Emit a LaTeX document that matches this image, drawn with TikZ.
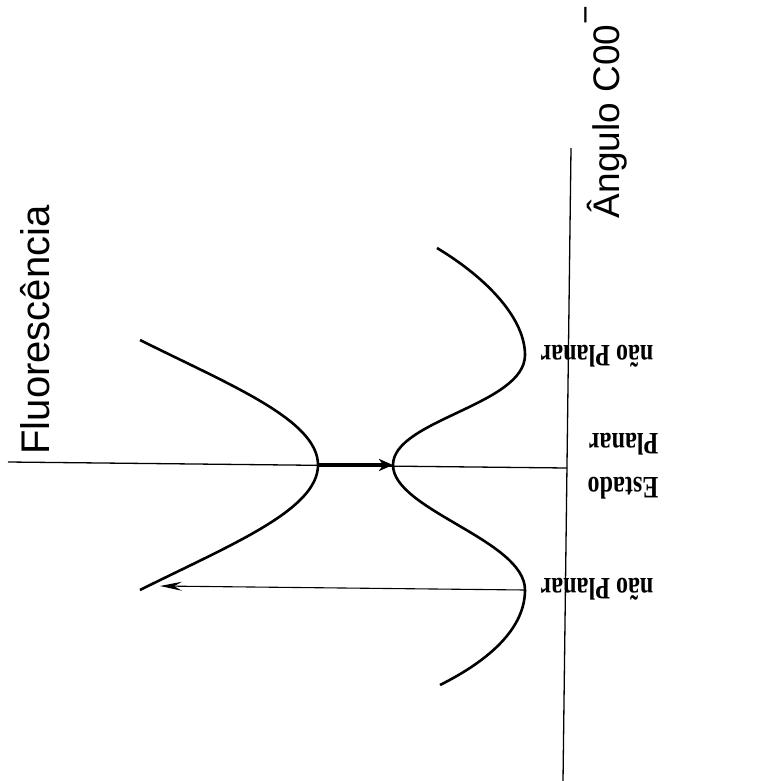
\documentclass[tikz,border=0pt]{standalone}
\usepackage{fontspec}
\setmainfont{Liberation Serif}
\newfontfamily\arialf{Liberation Sans}
\usetikzlibrary{arrows.meta}
\begin{document}
\begin{tikzpicture}[x=1pt,y=1pt,
  axis/.style={line width=1.3pt},
  curve/.style={line width=2.6pt},
  sanslabel/.style={font=\arialf\fontsize{#1}{#1}\selectfont, inner sep=0pt, rotate=90},
  seriflabel/.style={font=\bfseries\fontsize{24}{34}\selectfont, inner sep=0pt, rotate=180, yscale=1.3, align=left},
  thinarrow/.style={line width=1.1pt, -{Stealth[length=22pt,width=9pt,inset=8pt]}},
  thickarrow/.style={line width=3.2pt, -{Stealth[length=14pt,width=12pt,inset=4pt]}}]
\useasboundingbox (0,0) rectangle (761,-781);
% axes
\coordinate (hl) at (8,-462);
\coordinate (hr) at (567,-468);
\coordinate (vt) at (571,-148);
\coordinate (vb) at (563,-781);
\draw[axis] (hl) -- (hr);
\draw[axis] (vt) -- (vb);
% upper (excited) curve
\coordinate (v1) at (318,-465);
\draw[curve] (140,-340) .. controls (230,-385) and (318,-420) .. (v1)
  .. controls (318,-510) and (230,-545) .. (140,-590);
% lower (ground) double-well curve
\coordinate (v2) at (393,-465);
\coordinate (w2) at (525,-590);
\draw[curve] (437,-248) .. controls (490,-280) and (525,-320) .. (525,-355)
  .. controls (525,-405) and (393,-420) .. (v2)
  .. controls (393,-510) and (525,-540) .. (w2)
  .. controls (525,-628) and (490,-660) .. (440,-685);
% arrows
\coordinate (e2) at (160,-586);
\draw[thickarrow] (v1) -- (v2);
\draw[thinarrow] (w2) -- (e2);
% labels
\node[sanslabel=40] (fl) at (35,-330) {Fluorescência};
\node[sanslabel=37] (ang) at (606,-112) {Ângulo C00\raisebox{0.6em}{\fontsize{32}{32}\selectfont −}};
\node[seriflabel] (np1) at (597,-356) {não Planar};
\node[seriflabel] (np2) at (597,-589) {não Planar};
\node[seriflabel] (ep) at (623,-466) {Estado\\Planar};
\end{tikzpicture}
\end{document}
